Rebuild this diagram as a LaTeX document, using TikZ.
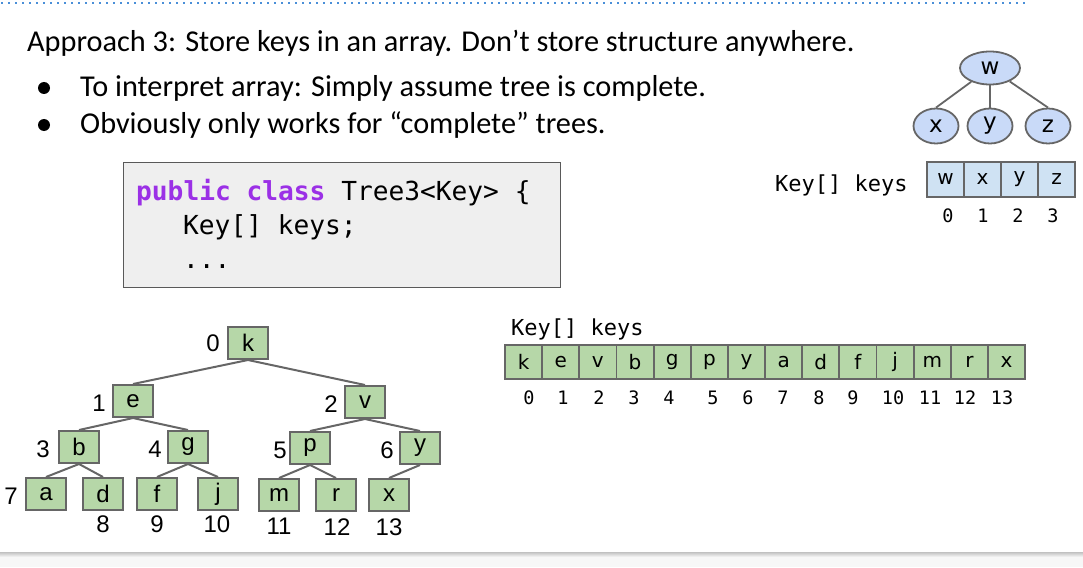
\documentclass[tikz,border=0pt]{standalone}
\usepackage{fontspec}
\setmainfont{Carlito}
\setmonofont{DejaVu Sans Mono}
\newfontfamily\arialf{Liberation Sans}
\newfontfamily\verd{DejaVu Sans}
\usetikzlibrary{shapes.geometric}
\definecolor{gfill}{HTML}{B6D7A8}
\definecolor{bfill}{HTML}{C9DAF8}
\definecolor{afill}{HTML}{CFE2F3}
\definecolor{edgec}{HTML}{666666}
\definecolor{codebg}{HTML}{EFEFEF}
\definecolor{codebd}{HTML}{595959}
\definecolor{kwc}{RGB}{155,48,230}
\definecolor{dotc}{HTML}{4A8FD8}
\begin{document}
\begin{tikzpicture}[x=1pt,y=-1pt,
  tnode/.style={draw=edgec,line width=2pt,fill=gfill,minimum width=40pt,minimum height=32pt,inner sep=0pt,font=\arialf\fontsize{24}{28}\selectfont},
  idx/.style={font=\arialf\fontsize{24}{28}\selectfont,inner sep=0pt},
  tedge/.style={draw=edgec,line width=2pt},
  enode/.style={ellipse,draw=edgec,line width=1.8pt,fill=bfill,inner sep=0pt,font=\verd\fontsize{23}{27}\selectfont},
  scell/.style={draw=edgec,line width=1.8pt,fill=afill,minimum width=37pt,minimum height=35pt,inner sep=0pt,font=\verd\fontsize{20}{24}\selectfont},
  bcell/.style={draw=edgec,line width=1.8pt,fill=gfill,minimum width=37.15pt,minimum height=34pt,inner sep=0pt,font=\verd\fontsize{20}{24}\selectfont},
  mono/.style={font=\ttfamily\fontsize{18.5}{22}\selectfont,inner sep=0pt,anchor=base},
  body/.style={font=\fontsize{30.3}{36}\selectfont,inner sep=0pt,anchor=base west},
  codet/.style={font=\ttfamily\fontsize{26.2}{30}\selectfont,inner sep=0pt,anchor=base west},
  lbl/.style={font=\ttfamily\fontsize{22}{26}\selectfont,inner sep=0pt,anchor=base west}
]
\useasboundingbox (0,0) rectangle (1083,567);
% top dotted line
\draw[dotc,line width=1.6pt,dash pattern=on 1.6pt off 5.4pt] (1,3) -- (1025,3);
% bottom band
\fill[color=black!3] (0,553) rectangle (1083,567);
\shade[top color=black!22,bottom color=black!3] (0,552.5) rectangle (1083,557);
% title and bullets
\node[body] (title) at (27,52) {Approach 3: Store keys in an array. Don’t store structure anywhere.};
\fill (44,88) circle (6pt);
\fill (44,125) circle (6pt);
\node[body] (b1) at (80,96) {To interpret array: Simply assume tree is complete.};
\node[body] (b2) at (80,133) {Obviously only works for “complete” trees.};
% code box
\node[draw=codebd,line width=1.2pt,fill=codebg,minimum width=437pt,minimum height=125pt,inner sep=0pt,anchor=north west] (code) at (123,162) {};
\node[codet] (c1) at (136,200) {\textcolor{kwc}{\bfseries public class} Tree3<Key> \{};
\node[codet] (c2) at (183,234) {Key[] keys;};
\node[codet] (c3) at (183,268) {...};
% small tree
\node[enode,minimum width=60pt,minimum height=33pt] (w) at (990,68) {w};
\node[enode,minimum width=45pt,minimum height=35pt] (sx) at (936,126) {x};
\node[enode,minimum width=45pt,minimum height=35pt] (sy) at (990,126) {y};
\node[enode,minimum width=45pt,minimum height=35pt] (sz) at (1048,126) {z};
\draw[tedge,line width=1.8pt] (w) -- (sx.north);
\draw[tedge,line width=1.8pt] (w) -- (sy);
\draw[tedge,line width=1.8pt] (w) -- (sz.north);
% small array
\node[lbl] (slbl) at (775,191) {Key[] keys};
\foreach \t [count=\i from 0] in {w,x,y,z}{
  \node[scell] (s\i) at (945.5+37*\i,179.5) {\t};
}
\foreach \xx [count=\i from 0] in {948,983,1018,1053}{
  \node[mono] (si\i) at (\xx,222) {\i};
}
% big tree
\node[tnode] (k) at (248,343) {k};
\node[tnode] (e) at (133,401) {e};
\node[tnode] (v) at (365,402) {v};
\node[tnode] (b) at (79,447) {b};
\node[tnode] (g) at (188,447) {g};
\node[tnode] (p) at (310,448) {p};
\node[tnode] (y) at (420,448) {y};
\node[tnode] (a) at (46,494) {a};
\node[tnode] (d) at (103,494) {d};
\node[tnode] (f) at (157,494) {f};
\node[tnode] (j) at (218,494) {j};
\node[tnode] (m) at (279,495) {m};
\node[tnode] (r) at (336,495) {r};
\node[tnode] (x) at (389,495) {x};
\foreach \u/\w in {k/e,k/v,e/b,e/g,v/p,v/y,b/a,b/d,g/f,g/j,p/m,p/r,y/x}{
  \draw[tedge] (\u.south) -- (\w.north);
}
\node[idx] (i0) at (213,343) {0};
\node[idx] (i1) at (99,403) {1};
\node[idx] (i2) at (331,404) {2};
\node[idx] (i3) at (43,449) {3};
\node[idx] (i4) at (155,449) {4};
\node[idx] (i5) at (280,450) {5};
\node[idx] (i6) at (387,450) {6};
\node[idx] (i7) at (11,496) {7};
\node[idx] (i8) at (103,524) {8};
\node[idx] (i9) at (157,524) {9};
\node[idx] (i10) at (217,524) {10};
\node[idx] (i11) at (279,526) {11};
\node[idx] (i12) at (337,527) {12};
\node[idx] (i13) at (389,527) {13};
% big array
\node[lbl] (blbl) at (511,335) {Key[] keys};
\foreach \t [count=\i from 0] in {k,e,v,b,g,p,y,a,d,f,j,m,r,x}{
  \node[bcell] (c\i) at (523.6+37.15*\i,362) {\t};
}
\foreach \xx [count=\i from 0] in {529,563,599,634,669,713,748,783,819,853,893,930,965,1002}{
  \pgfmathtruncatemacro\n{\i}
  \node[mono] (bi\i) at (\xx,404) {\n};
}
\end{tikzpicture}
\end{document}
